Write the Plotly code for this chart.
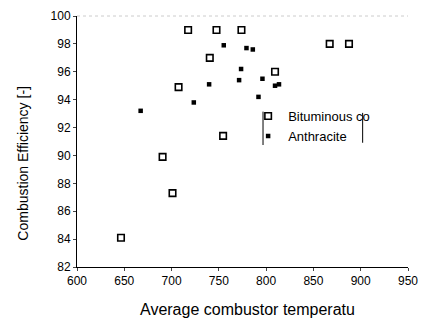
import plotly.graph_objects as go

bit_x = [646.5, 690.5, 701, 707.4, 717.5, 740.4, 747.5, 754.5, 773.9, 809.4, 867.2, 887.6]
bit_y = [84.1, 89.9, 87.3, 94.9, 99.0, 97.0, 99.0, 91.4, 99.0, 96.0, 98.0, 98.0]

ant_x = [667.3, 723.5, 739.7, 755.2, 771.4, 773.5, 779.2, 785.9, 791.9, 796.1, 809.4, 813.6]
ant_y = [93.2, 93.8, 95.1, 97.9, 95.4, 96.2, 97.7, 97.6, 94.2, 95.5, 95.0, 95.1]

x_ticks = [600, 650, 700, 750, 800, 850, 900, 950]
y_ticks = [82, 84, 86, 88, 90, 92, 94, 96, 98, 100]

x_title = "Average combustor temperatu"
y_title = "Combustion Efficiency [-]"

fig = go.Figure()
fig.add_trace(go.Scatter(x=bit_x, y=bit_y, mode="markers", name="Bituminous co",
                         marker=dict(symbol="square-open", size=6.5, color="black",
                                     line=dict(width=1.6, color="black"))))
fig.add_trace(go.Scatter(x=ant_x, y=ant_y, mode="markers", name="Anthracite",
                         marker=dict(symbol="square", size=4.5, color="black")))

fig.update_layout(
    width=421, height=322,
    margin=dict(l=77, r=13, t=16, b=55),
    paper_bgcolor="white", plot_bgcolor="white",
    font=dict(family="Arial, Liberation Sans, sans-serif", color="black", size=12),
    showlegend=True,
    legend=dict(x=0.517, y=0.661, xanchor="left", yanchor="top",
                bgcolor="rgba(0,0,0,0)", font=dict(size=13),
                itemwidth=30, tracegroupgap=0),
    xaxis=dict(range=[600, 950], tickvals=x_ticks, ticks="outside", ticklen=3,
               showline=True, linecolor="black", linewidth=1, showgrid=False,
               zeroline=False, tickfont=dict(size=12), automargin=False),
    yaxis=dict(range=[82, 100], tickvals=y_ticks, ticks="outside", ticklen=3,
               showline=True, linecolor="black", linewidth=1, showgrid=False,
               zeroline=False, tickfont=dict(size=12), automargin=False),
)

fig.add_annotation(text=x_title, xref="paper", yref="paper", x=0.514, y=-0.171,
                   xanchor="center", yanchor="middle", showarrow=False,
                   font=dict(size=16))
fig.add_annotation(text=y_title, xref="paper", yref="paper", x=-0.163, y=0.412,
                   xanchor="center", yanchor="middle", showarrow=False, textangle=-90,
                   font=dict(size=14))

# legend bracket lines
fig.add_shape(type="line", xref="paper", yref="paper", x0=0.562, x1=0.562, y0=0.486, y1=0.619,
              line=dict(color="black", width=1))
fig.add_shape(type="line", xref="paper", yref="paper", x0=0.863, x1=0.863, y0=0.495, y1=0.614,
              line=dict(color="black", width=1))
# faint top scan line
fig.add_shape(type="line", xref="paper", yref="paper", x0=0.0, x1=1.0, y0=1, y1=1,
              line=dict(color="#cccccc", width=1, dash="dot"))

fig.write_html("out.html", config={"displayModeBar": False},
               post_script="document.body.style.margin='0';document.body.style.overflow='hidden';")
